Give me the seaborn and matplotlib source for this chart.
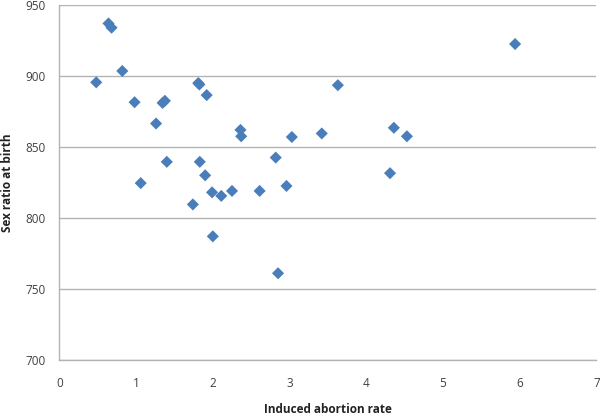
import matplotlib
matplotlib.use("Agg")
import matplotlib.pyplot as plt
import seaborn as sns
import pandas as pd

# Values
abortion_rate = [0.64, 0.68, 0.82, 0.48, 1.81, 1.825, 1.92, 0.98, 1.345, 1.375,
                 1.26, 2.36, 2.37, 3.03, 1.40, 1.83, 1.90, 1.06, 1.99, 2.11,
                 2.25, 2.61, 2.82, 2.96, 1.74, 2.00, 2.85, 3.42, 5.94, 3.63,
                 4.36, 4.53, 4.31]
sex_ratio = [937, 934, 903.5, 895.5, 895, 894, 886.5, 881.5, 881, 882.5,
             866.5, 862, 857.5, 857, 839.5, 839.5, 830, 824.5, 818, 815.5,
             819, 819, 842.5, 822.5, 809.5, 787, 761, 859.5, 922.5, 893.5,
             863.5, 857.5, 831.5]

x_ticks = [0, 1, 2, 3, 4, 5, 6, 7]
y_ticks = [700, 750, 800, 850, 900, 950]

df = pd.DataFrame({"rate": abortion_rate, "ratio": sex_ratio})

sns.set_style("white")
plt.rcParams['font.family'] = ['Open Sans', 'DejaVu Sans']

fig, ax = plt.subplots(figsize=(6, 4.16), dpi=100)
fig.subplots_adjust(left=0.099, right=0.994, top=0.988, bottom=0.135)

sns.scatterplot(data=df, x="rate", y="ratio", marker="D", s=38,
                color="#4a7ebb", edgecolor="none", ax=ax, zorder=3)

ax.set_xlim(0, 7)
ax.set_ylim(700, 950)
ax.set_xticks(x_ticks)
ax.set_yticks(y_ticks)
ax.grid(True, axis='y', color="#b3b3b3", linewidth=1)
ax.grid(False, axis='x')
for side in ["top", "right"]:
    ax.spines[side].set_visible(False)
for side in ["left", "bottom"]:
    ax.spines[side].set_color("#b3b3b3")
    ax.spines[side].set_linewidth(1)
ax.tick_params(axis='both', length=0, labelsize=8.5, colors="#404040")
ax.tick_params(axis='x', pad=12)
ax.tick_params(axis='y', pad=10)

ax.set_xlabel("Induced abortion rate", fontsize=8.5, fontweight='bold',
              color="#222222", labelpad=10)
ax.set_ylabel("Sex ratio at birth", fontsize=8.5, fontweight='bold',
              color="#222222", labelpad=8)

plt.savefig("out.png", dpi=100)
